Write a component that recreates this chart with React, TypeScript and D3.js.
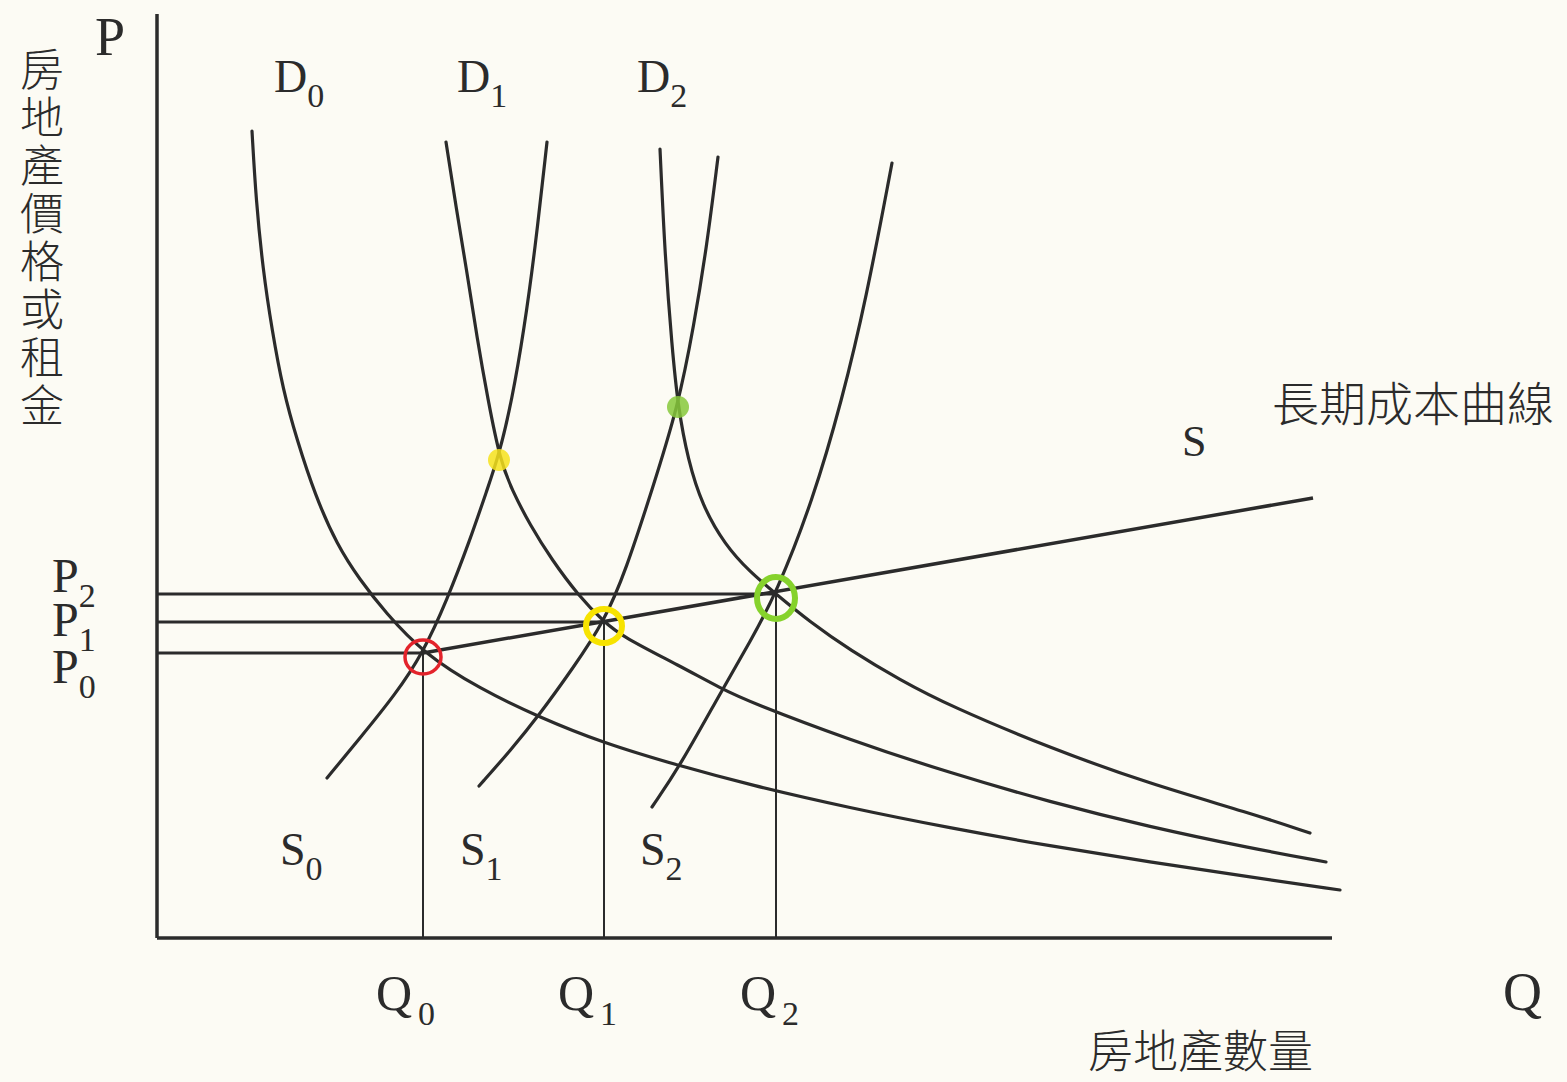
import { useEffect, useRef } from 'react'
import * as d3 from 'd3'

const WIDTH = 1567
const HEIGHT = 1082

// chart units: q = quantity of real estate, p = price / rent
const Q_MAX = 117.5
const P_MAX = 92.4

type Pt = [number, number]

const demand0: Pt[] = [
  [9.5, 80.7], [9.9, 73.8], [10.6, 66.8], [11.5, 60.8], [12.6, 54.8], [14.0, 49.8],
  [15.8, 44.3], [18.0, 39.3], [20.3, 35.8], [22.8, 32.6], [26.6, 28.5], [32.3, 24.9],
  [38.2, 22.1], [44.6, 19.5], [52.3, 17.2], [59.3, 15.3], [69.3, 13.0], [79.3, 11.0],
  [89.3, 9.2], [99.3, 7.6], [109.3, 6.1], [118.3, 4.8],
]
const demand1: Pt[] = [
  [28.9, 79.6], [29.9, 73.1], [31.0, 66.6], [32.0, 60.0], [33.1, 53.8], [34.3, 47.8],
  [35.5, 44.8], [37.3, 41.3], [39.5, 37.8], [42.1, 34.3], [44.7, 31.6], [46.6, 30.1],
  [52.3, 27.2], [56.5, 24.9], [59.3, 23.6], [69.3, 19.8], [79.3, 16.5], [89.3, 13.6],
  [99.3, 11.1], [109.3, 9.0], [116.9, 7.6],
]
const demand2: Pt[] = [
  [50.3, 78.9], [50.8, 68.1], [51.5, 59.1], [52.1, 53.1], [53.1, 47.8], [54.5, 43.3],
  [56.8, 39.3], [59.3, 36.6], [61.9, 34.4], [65.3, 31.6], [69.3, 28.8], [74.3, 25.8],
  [79.3, 23.2], [89.3, 19.0], [99.3, 15.4], [109.3, 12.5], [115.3, 10.5],
]
const supply0: Pt[] = [
  [17.0, 16.0], [20.3, 20.0], [23.8, 24.3], [26.6, 28.5], [29.0, 33.8], [31.3, 39.8],
  [33.0, 44.8], [34.2, 48.3], [35.5, 53.8], [36.7, 60.8], [37.8, 68.8], [39.0, 79.6],
]
const supply1: Pt[] = [
  [32.2, 15.2], [35.3, 18.7], [38.3, 22.4], [41.6, 27.0], [44.7, 31.6], [46.9, 36.8],
  [49.5, 44.8], [52.1, 53.1], [53.7, 61.3], [55.0, 69.3], [56.1, 78.1],
]
const supply2: Pt[] = [
  [49.5, 13.1], [52.3, 17.2], [56.5, 24.8], [59.3, 29.6], [61.9, 34.4], [65.6, 43.8],
  [68.5, 53.8], [70.9, 63.8], [73.5, 77.5],
]
// long-run cost curve S
const longRun: Pt[] = [[26.6, 28.5], [115.6, 44.0]]

// equilibria E0, E1, E2
const eqQ = [26.6, 44.7, 61.9]
const eqP = [28.5, 31.6, 34.4]
const ringColors = ['#e3232b', '#f7e300', '#86d22c']

// short-run peaks (D_n crossing S_{n-1})
const peaks: Pt[] = [[34.2, 47.8], [52.1, 53.1]]
const peakColors = ['#f6e21c', '#86c83a']

const curveLabels = [
  { name: 'D', sub: '0', q: 11.7, p: 84.6 },
  { name: 'D', sub: '1', q: 30.0, p: 84.6 },
  { name: 'D', sub: '2', q: 48.0, p: 84.6 },
  { name: 'S', sub: '0', q: 12.3, p: 7.3 },
  { name: 'S', sub: '1', q: 30.3, p: 7.3 },
  { name: 'S', sub: '2', q: 48.3, p: 7.3 },
]
const priceLabels = [
  { name: 'P', sub: '2', q: -10.5, p: 34.6 },
  { name: 'P', sub: '1', q: -10.5, p: 30.2 },
  { name: 'P', sub: '0', q: -10.5, p: 25.5 },
]
const qtyLabels = [
  { name: 'Q', sub: '0', q: 21.9, p: -7.2 },
  { name: 'Q', sub: '1', q: 40.1, p: -7.2 },
  { name: 'Q', sub: '2', q: 58.3, p: -7.2 },
]
const yTitle = '房地產價格或租金'
const xTitle = '房地產數量'
const longRunTitle = '長期成本曲線'

const INK = '#2b2b2b'
const SERIF = '"Liberation Serif", "Times New Roman", serif'
const CJK = '"Noto Sans CJK TC", "Noto Sans CJK SC", sans-serif'

export default function App() {
  const ref = useRef<SVGSVGElement | null>(null)

  useEffect(() => {
    const svg = d3.select(ref.current)
    svg.selectAll('*').remove()

    const x = d3.scaleLinear().domain([0, Q_MAX]).range([157, 1332])
    const y = d3.scaleLinear().domain([0, P_MAX]).range([938, 14])

    svg.append('rect').attr('width', WIDTH).attr('height', HEIGHT).attr('fill', '#fcfbf4')

    const line = d3
      .line<Pt>()
      .x((d) => x(d[0]))
      .y((d) => y(d[1]))
      .curve(d3.curveBasis)

    // guide lines to the axes
    eqP.forEach((p, i) => {
      svg.append('line')
        .attr('x1', x(0)).attr('x2', x(eqQ[i]))
        .attr('y1', y(p)).attr('y2', y(p))
        .attr('stroke', INK).attr('stroke-width', 3)
    })
    eqQ.forEach((q, i) => {
      svg.append('line')
        .attr('x1', x(q)).attr('x2', x(q))
        .attr('y1', y(eqP[i])).attr('y2', y(0))
        .attr('stroke', INK).attr('stroke-width', 2)
    })

    ;[demand0, demand1, demand2, supply0, supply1, supply2].forEach((c) => {
      svg.append('path').attr('d', line(c)).attr('fill', 'none')
        .attr('stroke', INK).attr('stroke-width', 3.2).attr('stroke-linecap', 'round')
    })
    svg.append('path').attr('d', d3.line<Pt>().x((d) => x(d[0])).y((d) => y(d[1]))(longRun))
      .attr('fill', 'none').attr('stroke', INK).attr('stroke-width', 3.5)

    // axes
    svg.append('line').attr('x1', x(0)).attr('x2', x(0)).attr('y1', y(0)).attr('y2', y(P_MAX))
      .attr('stroke', INK).attr('stroke-width', 3.5)
    svg.append('line').attr('x1', x(0)).attr('x2', x(Q_MAX)).attr('y1', y(0)).attr('y2', y(0))
      .attr('stroke', INK).attr('stroke-width', 3.5)

    // peaks
    peaks.forEach((d, i) => {
      svg.append('circle').attr('cx', x(d[0])).attr('cy', y(d[1])).attr('r', 11)
        .attr('fill', peakColors[i]).attr('opacity', 0.85)
    })

    // rings around the equilibria
    eqQ.forEach((q, i) => {
      svg.append('ellipse')
        .attr('cx', x(q)).attr('cy', y(eqP[i]) + 4)
        .attr('rx', i === 2 ? 19 : 18).attr('ry', i === 2 ? 21 : 17)
        .attr('fill', 'none').attr('stroke', ringColors[i])
        .attr('stroke-width', i === 0 ? 3.5 : 6)
    })

    const subLabel = (
      d: { name: string; sub: string; q: number; p: number },
      size: number,
      subSize: number,
      gap: number,
    ) => {
      const t = svg.append('text').attr('x', x(d.q)).attr('y', y(d.p))
        .attr('font-family', SERIF).attr('font-size', size).attr('fill', INK)
      t.append('tspan').text(d.name)
      t.append('tspan').attr('dx', gap).attr('dy', 15).attr('font-size', subSize).text(d.sub)
    }
    curveLabels.forEach((d) => subLabel(d, 46, 34, 0))
    qtyLabels.forEach((d) => subLabel(d, 50, 34, 6))

    // the stacked price labels share one text block
    const pt = svg.append('text').attr('font-family', SERIF).attr('font-size', 48).attr('fill', INK)
    priceLabels.forEach((d) => {
      pt.append('tspan').attr('x', x(d.q)).attr('y', y(d.p)).text(d.name)
      pt.append('tspan').attr('dy', 15).attr('font-size', 34).text(d.sub)
    })

    const plain = (txt: string, q: number, p: number, size: number) =>
      svg.append('text').attr('x', x(q)).attr('y', y(p))
        .attr('font-family', SERIF).attr('font-size', size).attr('fill', INK).text(txt)
    plain('P', -6.2, 88.3, 54)
    plain('Q', 134.6, -7.2, 54)
    plain('S', 102.5, 48.2, 44)

    svg.append('text').attr('x', x(111.5)).attr('y', y(53.8))
      .attr('dominant-baseline', 'central')
      .attr('font-family', CJK).attr('font-weight', 300).attr('font-size', 47).attr('fill', INK)
      .text(longRunTitle)
    svg.append('text').attr('x', x(93.1)).attr('y', y(-11.0))
      .attr('dominant-baseline', 'central')
      .attr('font-family', CJK).attr('font-weight', 300).attr('font-size', 45).attr('fill', INK)
      .text(xTitle)

    // vertical axis title, one text in vertical writing mode
    svg.append('text')
      .attr('x', x(-11.5)).attr('y', y(89.1))
      .style('writing-mode', 'vertical-rl')
      .style('text-orientation', 'upright')
      .attr('letter-spacing', 4)
      .attr('font-family', CJK).attr('font-weight', 300).attr('font-size', 44).attr('fill', INK)
      .text(yTitle)
  }, [])

  return (
    <svg
      ref={ref}
      width={WIDTH}
      height={HEIGHT}
      style={{ position: 'absolute', left: 0, top: 0, display: 'block' }}
    />
  )
}
